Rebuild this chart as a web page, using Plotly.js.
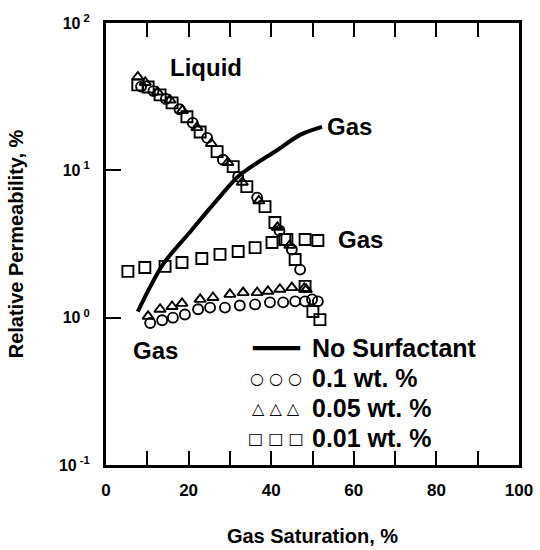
<!DOCTYPE html>
<html>
<head>
<meta charset="utf-8">
<script src="https://cdn.plot.ly/plotly-3.0.1.min.js"></script>
</head>
<body style="margin:0">
<div id="chart" style="width:540px;height:550px"></div>
<script>
// Gas relative permeability without surfactant (solid curve)
const noSurfSg  = [7.7, 13.8, 20.3, 26.9, 32.4, 41.6, 47.0, 52.3];
const noSurfKrg = [1.1, 2.3, 3.8, 6.3, 9.3, 13.8, 17.4, 19.7];

// 0.1 wt. % surfactant (circles)
const c01GasSg  = [10.7, 13.6, 16.2, 19.1, 22.3, 25.2, 28.8, 32.4, 36.1, 39.7, 42.9, 45.8, 48.2, 51.3];
const c01GasKr  = [0.92, 0.96, 1.00, 1.05, 1.14, 1.17, 1.17, 1.21, 1.23, 1.27, 1.27, 1.29, 1.29, 1.29];
const c01LiqSg  = [8.5, 11.5, 14.5, 17.8, 21.0, 24.5, 28.3, 32.0, 36.6, 42.0, 45.0, 47.0, 49.9];
const c01LiqKr  = [37, 34.5, 30.5, 26, 21, 16.6, 11.8, 9.06, 6.53, 3.9, 2.9, 2.12, 1.33];

// 0.05 wt. % surfactant (triangles)
const c005GasSg = [10.2, 13.1, 16.0, 18.4, 22.8, 25.9, 30.0, 33.2, 36.6, 39.2, 42.1, 45.0, 48.0];
const c005GasKr = [1.02, 1.14, 1.19, 1.25, 1.33, 1.37, 1.44, 1.48, 1.48, 1.51, 1.56, 1.60, 1.58];
const c005LiqSg = [7.7, 9.5, 12.5, 15.5, 18.5, 22.0, 25.5, 29.5, 33.0, 37.0, 41.5, 44.5, 48.5];
const c005LiqKr = [43, 39.5, 34, 30, 25.5, 19.5, 15.2, 11.3, 8.3, 6.2, 4.1, 3.1, 1.55];

// 0.01 wt. % surfactant (squares)
const c001GasSg = [5.3, 9.4, 14.3, 18.4, 23.2, 27.6, 32.0, 36.1, 40.2, 43.8, 48.2, 51.3];
const c001GasKr = [2.06, 2.19, 2.23, 2.37, 2.52, 2.69, 2.81, 2.99, 3.24, 3.39, 3.39, 3.34];
const c001LiqSg = [7.7, 10.2, 13.1, 16.0, 19.6, 22.8, 26.9, 30.8, 34.1, 38.5, 40.9, 43.3, 45.8, 48.2, 50.1, 51.8];
const c001LiqKr = [38.0, 36.8, 32.5, 28.7, 23.1, 18.2, 13.4, 10.6, 7.75, 5.67, 4.42, 3.39, 2.48, 1.63, 1.10, 0.97];

// Axis ticks: a tick every 10 %, labelled every 20 %
const xRange = [0, 100];
const xTickVals = [0, 10, 20, 30, 40, 50, 60, 70, 80, 90, 100];
const xTickText = ['0', ' ', '20', ' ', '40', ' ', '60', ' ', '80', ' ', '100'];
const yRange = [-1, 2];
const yTickVals = [0.1, 1, 10, 100];
const yTickText = ['10<sup> -1</sup>', '10<sup> 0</sup>', '10<sup> 1</sup>', '10<sup> 2</sup>'];

// Key entries: symbol string and label
const keySymbols = ['\u2501\u2501\u2501', '\u25CB \u25CB \u25CB', '\u25B3 \u25B3 \u25B3', '\u25A1 \u25A1 \u25A1'];
const keyLabels  = ['No Surfactant', '0.1 wt. %', '0.05 wt. %', '0.01 wt. %'];

const FONT = 'Liberation Sans, Arial, Helvetica, sans-serif';
const BOLD = { family: FONT, color: '#000', weight: 'bold' };

function markerTrace(name, sym, size, gx, gy, lx, ly) {
  return {
    type: 'scatter', mode: 'markers', name: name, xaxis: 'x', yaxis: 'y',
    x: gx.concat(lx), y: gy.concat(ly),
    marker: { symbol: sym, size: size, color: '#000', line: { width: 1.9, color: '#000' } }
  };
}

const traces = [
  {
    type: 'scatter', mode: 'lines', name: 'No Surfactant', xaxis: 'x', yaxis: 'y',
    x: noSurfSg, y: noSurfKrg,
    line: { color: '#000', width: 4, shape: 'spline', smoothing: 0.9 }
  },
  markerTrace('0.1 wt. %', 'circle-open', 10, c01GasSg, c01GasKr, c01LiqSg, c01LiqKr),
  markerTrace('0.05 wt. %', 'triangle-up-open', 10, c005GasSg, c005GasKr, c005LiqSg, c005LiqKr),
  markerTrace('0.01 wt. %', 'square-open', 11, c001GasSg, c001GasKr, c001LiqSg, c001LiqKr)
];

const labelFont = Object.assign({}, BOLD, { size: 24 });

// Curve labels inside the plot
const annotations = [
  { text: 'Liquid', x: 24.2, y: 1.695, xref: 'x', yref: 'y', showarrow: false, font: labelFont },
  { text: 'Gas', x: 59, y: 1.295, xref: 'x', yref: 'y', showarrow: false, font: labelFont },
  { text: 'Gas', x: 61.7, y: 0.53, xref: 'x', yref: 'y', showarrow: false, font: labelFont },
  { text: 'Gas', x: 12.1, y: -0.221, xref: 'x', yref: 'y', showarrow: false, font: labelFont }
];

// Key in the lower right of the plot, one row per series
const keyTop = 0.2647, keyStep = 0.0679;
keyLabels.forEach((lab, i) => {
  const yy = keyTop - i * keyStep;
  annotations.push({
    text: keySymbols[i], xref: 'paper', yref: 'paper', x: 0.4116, y: yy,
    xanchor: 'center', yanchor: 'middle', showarrow: false,
    font: { family: 'DejaVu Sans', size: i === 0 ? 26 : 16, color: '#000' }
  });
  annotations.push({
    text: lab, xref: 'paper', yref: 'paper', x: 0.4939, y: yy,
    xanchor: 'left', yanchor: 'middle', showarrow: false,
    font: Object.assign({}, BOLD, { size: 25 })
  });
});

const layout = {
  width: 540, height: 550,
  margin: { l: 106, r: 21, t: 23, b: 85 },
  paper_bgcolor: '#fff', plot_bgcolor: '#fff',
  font: { family: FONT, color: '#000' },
  showlegend: false,
  xaxis: {
    range: xRange, tickmode: 'array', tickvals: xTickVals, ticktext: xTickText,
    ticks: 'inside', ticklen: 14, tickwidth: 2, tickcolor: '#000',
    showline: true, linewidth: 3, linecolor: '#000', mirror: 'ticks',
    showgrid: false, zeroline: false,
    tickfont: Object.assign({}, BOLD, { size: 17 }),
    ticklabelstandoff: 8,
    title: { text: 'Gas Saturation, %', font: Object.assign({}, BOLD, { size: 20 }), standoff: 30 }
  },
  yaxis: {
    type: 'log', range: yRange, tickmode: 'array', tickvals: yTickVals, ticktext: yTickText,
    ticks: 'inside', ticklen: 15, tickwidth: 2, tickcolor: '#000',
    showline: true, linewidth: 3, linecolor: '#000', mirror: true,
    showgrid: false, zeroline: false,
    tickfont: Object.assign({}, BOLD, { size: 16 }),
    ticklabelstandoff: 10,
    title: { text: 'Relative Permeability, %', font: Object.assign({}, BOLD, { size: 20 }), standoff: 30 }
  },
  annotations: annotations
};

Plotly.newPlot('chart', traces, layout, { displayModeBar: false });
</script>
</body>
</html>
